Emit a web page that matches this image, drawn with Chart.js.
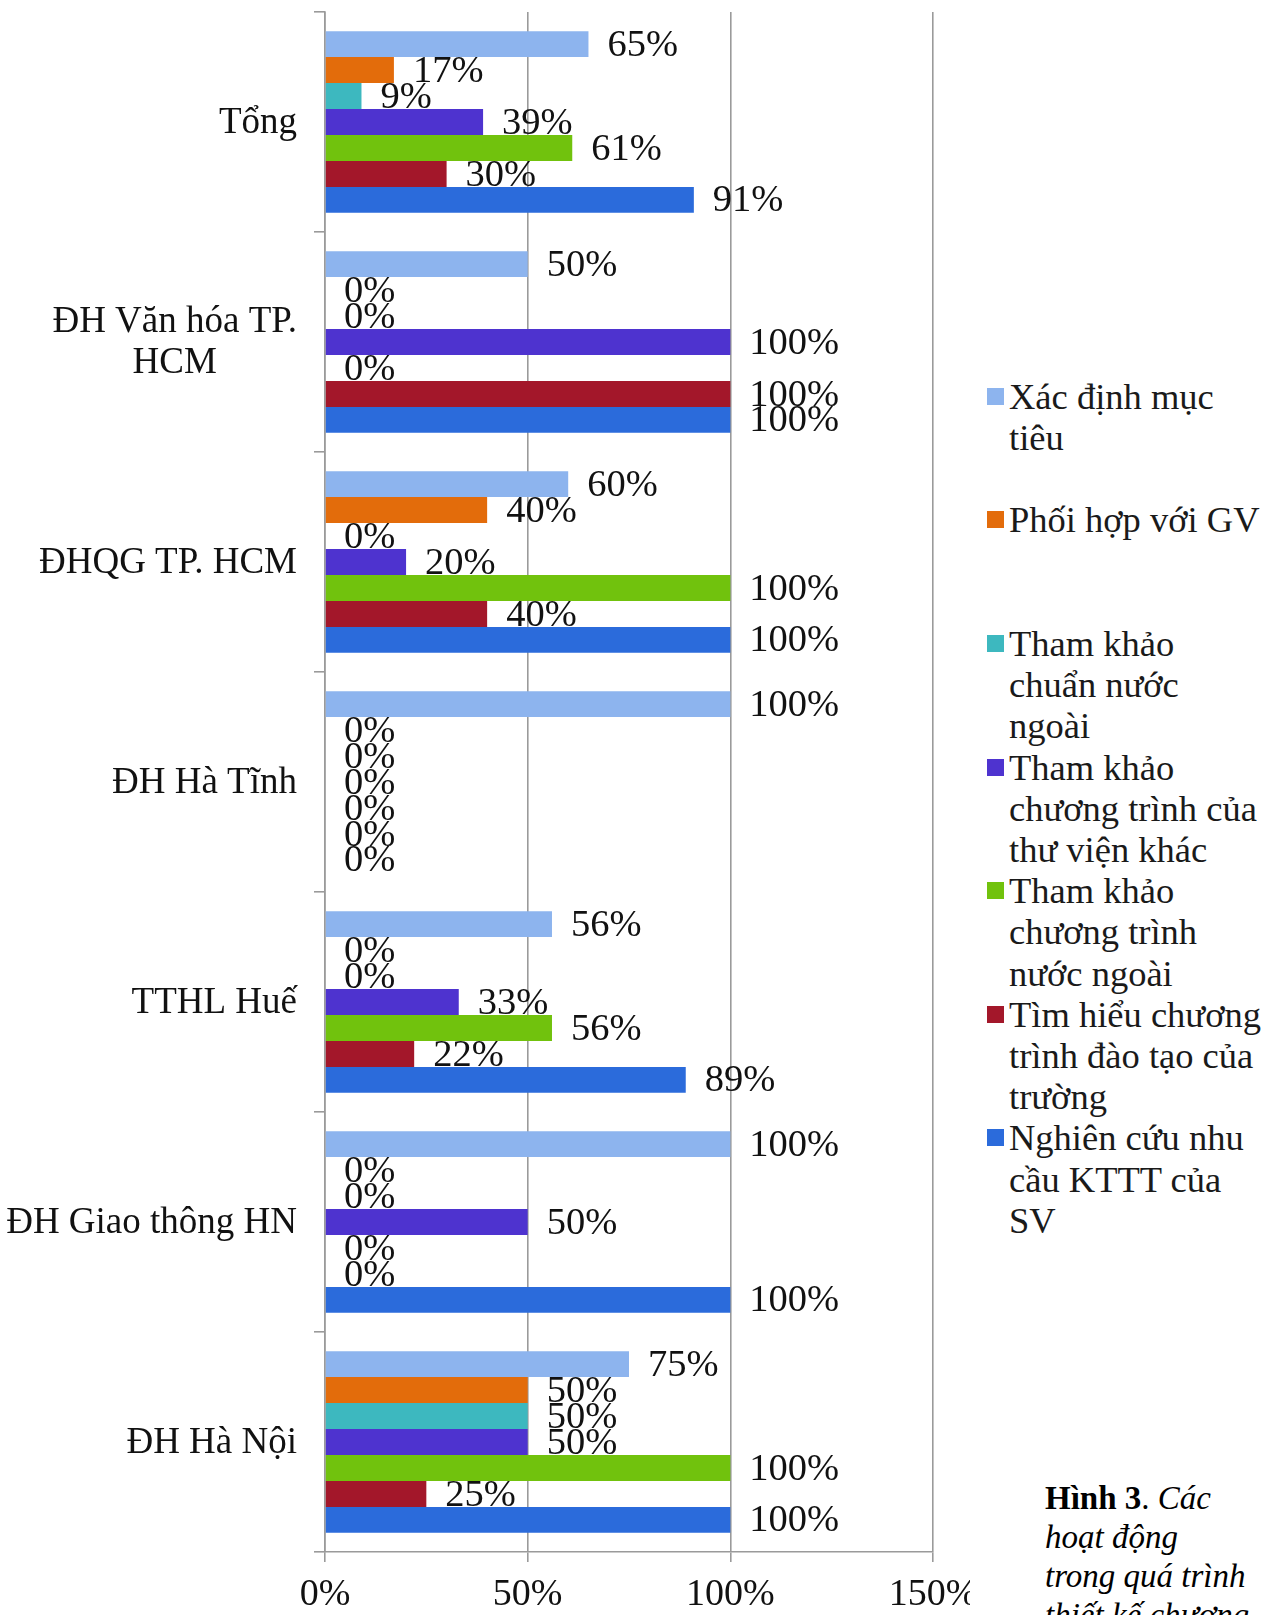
<!DOCTYPE html>
<html>
<head>
<meta charset="utf-8">
<script src="https://cdn.jsdelivr.net/npm/chart.js@4/dist/chart.umd.min.js"></script>
<style>
html,body{margin:0;padding:0;background:#fff;width:1275px;height:1615px;overflow:hidden;}
#wrap{position:relative;width:1275px;height:1615px;overflow:hidden;}
#c{position:absolute;left:0;top:0;}
.legend{position:absolute;left:987px;top:375.9px;font-family:"Liberation Serif",serif;font-size:36.5px;line-height:41.2px;color:#1a1a1a;}
.item{position:relative;height:123.6px;padding-left:22px;white-space:nowrap;}
.sw{position:absolute;left:0;top:12px;width:17px;height:17px;}
.caption{position:absolute;left:1045px;top:1479px;font-family:"Liberation Serif",serif;font-size:33px;line-height:39px;color:#000;white-space:nowrap;}
.caption i{font-style:italic;}
</style>
</head>
<body>
<div id="wrap">
<canvas id="c" width="970" height="1615" style="width:970px;height:1615px;"></canvas>
<div class="legend" id="legend"></div>
<div class="caption"><b>Hình 3</b>. <i>Các<br>hoạt động<br>trong quá trình<br>thiết kế chương</i></div>
</div>
<script>
// ---- Data ----
const categories = [
  ['Tổng'],
  ['ĐH Văn hóa TP.', 'HCM'],
  ['ĐHQG TP. HCM'],
  ['ĐH Hà Tĩnh'],
  ['TTHL Huế'],
  ['ĐH Giao thông HN'],
  ['ĐH Hà Nội']
];
const seriesNames = [
  'Xác định mục tiêu',
  'Phối hợp với GV',
  'Tham khảo chuẩn nước ngoài',
  'Tham khảo chương trình của thư viện khác',
  'Tham khảo chương trình nước ngoài',
  'Tìm hiểu chương trình đào tạo của trường',
  'Nghiên cứu nhu cầu KTTT của SV'
];
const legendLines = [
  ['Xác định mục', 'tiêu'],
  ['Phối hợp với GV'],
  ['Tham khảo', 'chuẩn nước', 'ngoài'],
  ['Tham khảo', 'chương trình của', 'thư viện khác'],
  ['Tham khảo', 'chương trình', 'nước ngoài'],
  ['Tìm hiểu chương', 'trình đào tạo của', 'trường'],
  ['Nghiên cứu nhu', 'cầu KTTT của', 'SV']
];
const xacDinhMucTieu          = [65, 50, 60, 100, 56, 100, 75];
const phoiHopVoiGV            = [17, 0, 40, 0, 0, 0, 50];
const thamKhaoChuanNuocNgoai  = [9, 0, 0, 0, 0, 0, 50];
const thamKhaoCTThuVienKhac   = [39, 100, 20, 0, 33, 50, 50];
const thamKhaoCTNuocNgoai     = [61, 0, 100, 0, 56, 0, 100];
const timHieuCTDaoTao         = [30, 100, 40, 0, 22, 0, 25];
const nghienCuuNhuCau         = [91, 100, 100, 0, 89, 100, 100];
const xTicks = [0, 50, 100, 150];

const seriesValues = [xacDinhMucTieu, phoiHopVoiGV, thamKhaoChuanNuocNgoai,
  thamKhaoCTThuVienKhac, thamKhaoCTNuocNgoai, timHieuCTDaoTao, nghienCuuNhuCau];
const colors = ['#8db4ee', '#e36c0b', '#3db8bf', '#4e33cf', '#71c20d', '#a3172a', '#2b6bdb'];

// ---- Legend (HTML) ----
const lg = document.getElementById('legend');
seriesNames.forEach((n, i) => {
  const d = document.createElement('div');
  d.className = 'item';
  const s = document.createElement('span');
  s.className = 'sw';
  s.style.background = colors[i];
  d.appendChild(s);
  legendLines[i].forEach((ln, j) => {
    if (j) d.appendChild(document.createElement('br'));
    d.appendChild(document.createTextNode(ln));
  });
  lg.appendChild(d);
});

const FONT = '"Liberation Serif", "Times New Roman", serif';

const labelPlugin = {
  id: 'labels',
  afterDatasetsDraw(chart) {
    const ctx = chart.ctx;
    ctx.save();
    // data labels
    ctx.font = '38.5px ' + FONT;
    ctx.fillStyle = '#111';
    ctx.textAlign = 'left';
    ctx.textBaseline = 'middle';
    chart.data.datasets.forEach((ds, i) => {
      const meta = chart.getDatasetMeta(i);
      meta.data.forEach((el, j) => {
        ctx.fillText(ds.data[j] + '%', el.x + 19, el.y + 1.5);
      });
    });
    // category labels
    const ys = chart.scales.y;
    ctx.font = '37px ' + FONT;
    ctx.fillStyle = '#111';
    ctx.textAlign = 'center';
    const rightEdge = 297;
    const pitch = 41;
    categories.forEach((lines, i) => {
      const cy = ys.getPixelForValue(i) + 1;
      let w = 0;
      lines.forEach(l => { w = Math.max(w, ctx.measureText(l).width); });
      const cx = rightEdge - w / 2;
      const y0 = cy - (lines.length - 1) * pitch / 2;
      lines.forEach((l, k) => ctx.fillText(l, cx, y0 + k * pitch));
    });
    ctx.restore();
  }
};

new Chart(document.getElementById('c'), {
  type: 'bar',
  data: {
    labels: categories,
    datasets: seriesNames.map((n, i) => ({
      label: n,
      data: seriesValues[i],
      backgroundColor: colors[i],
      borderWidth: 0,
      barPercentage: 1.0,
      categoryPercentage: 0.826
    }))
  },
  options: {
    indexAxis: 'y',
    responsive: false,
    animation: false,
    devicePixelRatio: 1,
    layout: { padding: { top: 12, right: 37, bottom: 0, left: 0 } },
    plugins: { legend: { display: false }, tooltip: { enabled: false } },
    scales: {
      x: {
        min: 0, max: 150,
        afterBuildTicks(scale) { scale.ticks = xTicks.map(v => ({ value: v })); },
        afterFit(scale) { scale.height = 63; scale.paddingLeft = 0; scale.paddingRight = 0; },
        ticks: {
          callback: v => v + '%',
          font: { family: FONT, size: 38 },
          color: '#111',
          padding: 10,
          maxRotation: 0
        },
        grid: { color: '#9a9a9a', lineWidth: 1.6, tickLength: 10, drawTicks: true },
        border: { display: true, color: '#9a9a9a', width: 1.6 }
      },
      y: {
        afterFit(scale) { scale.width = 325; scale.paddingTop = 0; scale.paddingBottom = 0; },
        ticks: { display: false },
        grid: { display: true, drawOnChartArea: false, drawTicks: true, tickLength: 11, color: '#9a9a9a', lineWidth: 1.6, offset: true },
        border: { display: true, color: '#9a9a9a', width: 1.6 }
      }
    }
  },
  plugins: [labelPlugin]
});
</script>
</body>
</html>
